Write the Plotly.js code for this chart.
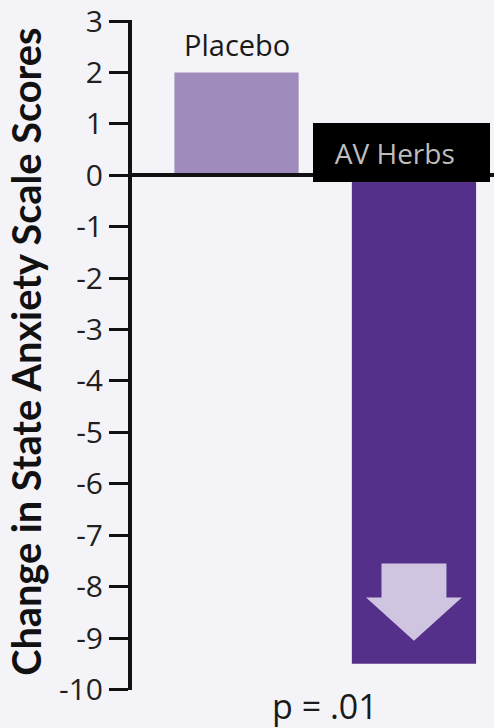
<!DOCTYPE html>
<html>
<head>
<meta charset="utf-8">
<script src="https://cdn.plot.ly/plotly-3.0.1.min.js"></script>
<style>
  html, body { margin: 0; padding: 0; background: #f4f3f8; }
  #chart { width: 494px; height: 728px; }
</style>
</head>
<body>
<div id="chart"></div>
<script>
// ---- data ----
const categories = ['Placebo', 'AV Herbs'];
const changeScores = [2, -9.5];
const barColors = ['#a08bbd', '#55308a'];
const tickValues = [3, 2, 1, 0, -1, -2, -3, -4, -5, -6, -7, -8, -9, -10];
const tickLabels = ['3', '2', '1', '0', '-1', '-2', '-3', '-4', '-5', '-6', '-7', '-8', '-9', '-10'];
const yTitle = 'Change in State Anxiety Scale Scores';
const pValueText = 'p = .01';

// ---- decorative down arrow inside the AV Herbs bar (relative to bar end) ----
const avIdx = 1;
const avVal = changeScores[avIdx];
const shaftHalf = 0.183, headHalf = 0.27;
const shaftTop = avVal + 1.95, headBase = avVal + 1.29, tip = avVal + 0.45;
const arrowPath = 'M ' + (avIdx - shaftHalf) + ',' + shaftTop +
  ' L ' + (avIdx + shaftHalf) + ',' + shaftTop +
  ' L ' + (avIdx + shaftHalf) + ',' + headBase +
  ' L ' + (avIdx + headHalf) + ',' + headBase +
  ' L ' + avIdx + ',' + tip +
  ' L ' + (avIdx - headHalf) + ',' + headBase +
  ' L ' + (avIdx - shaftHalf) + ',' + headBase + ' Z';

const font = 'Open Sans, Liberation Sans, sans-serif';
const titleFont = 'Lato, Open Sans, sans-serif';
const yRange = [-10.01, 3.02];

const trace = {
  type: 'bar',
  x: categories,
  y: changeScores,
  width: 0.7,
  marker: { color: barColors, line: { width: 0 } },
  hoverinfo: 'skip'
};

const layout = {
  width: 494,
  height: 728,
  margin: { l: 132, r: 0, t: 20, b: 38 },
  paper_bgcolor: '#f4f3f8',
  plot_bgcolor: '#f4f3f8',
  showlegend: false,
  xaxis: {
    type: 'category',
    range: [-0.589, 1.451],
    showline: false, showticklabels: false, ticks: '', showgrid: false, zeroline: false,
    fixedrange: true
  },
  yaxis: {
    range: yRange,
    tickvals: tickValues,
    ticktext: tickLabels,
    ticklabeloverflow: 'allow',
    ticks: 'outside', ticklen: 19, tickwidth: 3, tickcolor: '#111',
    showline: true, linewidth: 4, linecolor: '#111',
    zeroline: true, zerolinewidth: 4, zerolinecolor: '#111', zerolinelayer: 'above traces',
    showgrid: false,
    tickfont: { family: font, size: 30, color: '#231f20' },
    fixedrange: true
  },
  yaxis2: {
    overlaying: 'y', side: 'left',
    range: yRange,
    tickvals: tickValues,
    ticks: 'inside', ticklen: 18, tickwidth: 3, tickcolor: '#111',
    showticklabels: false, showline: false, showgrid: false, zeroline: false,
    fixedrange: true
  },
  shapes: [
    { type: 'path', xref: 'x', yref: 'y', path: arrowPath,
      fillcolor: '#cfc5e1', line: { width: 0 }, layer: 'above' }
  ],
  annotations: [
    { text: yTitle, xref: 'paper', yref: 'paper', x: -0.295, y: 0.505,
      xanchor: 'center', yanchor: 'middle', textangle: -90, showarrow: false,
      font: { family: titleFont, size: 39.7, color: '#111', weight: 700 } },
    { text: categories[0], xref: 'x', yref: 'y', x: 0, y: changeScores[0],
      xanchor: 'center', yanchor: 'bottom', yshift: 6, showarrow: false,
      font: { family: font, size: 29, color: '#1a1a1a' } },
    { text: '\u00a0\u00a0\u00a0' + categories[1], xref: 'x', yref: 'y', x: 1, y: 0,
      xanchor: 'center', yanchor: 'middle', xshift: -12.5, yshift: 23,
      width: 177, height: 59, borderpad: 0, borderwidth: 0, align: 'left',
      bgcolor: '#000000', showarrow: false,
      font: { family: font, size: 28, color: '#bdbdbd' } },
    { text: pValueText, xref: 'x', yref: 'paper', x: 0.5, y: 0,
      xanchor: 'center', yanchor: 'middle', yshift: -16, showarrow: false,
      font: { family: font, size: 34, color: '#1a1a1a' } }
  ]
};

Plotly.newPlot('chart', [trace], layout, { displayModeBar: false, staticPlot: true });
</script>
</body>
</html>
